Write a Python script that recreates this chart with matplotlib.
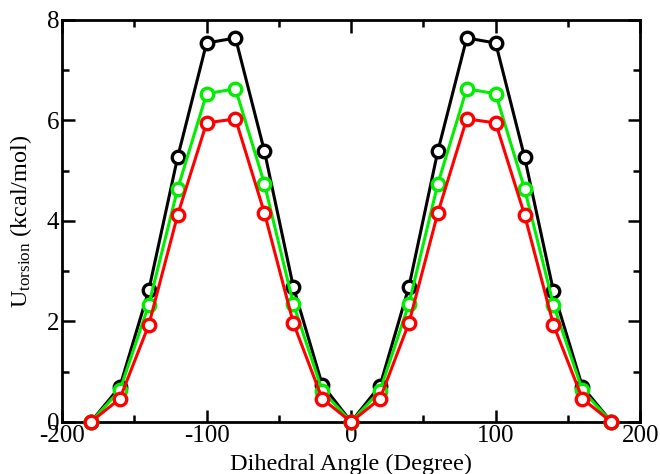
import matplotlib
matplotlib.use("Agg")
import matplotlib.pyplot as plt
from matplotlib.ticker import MultipleLocator

# dihedral angle (degree)
angle = [-180, -160, -140, -120, -100, -80, -60, -40, -20, 0,
         20, 40, 60, 80, 100, 120, 140, 160, 180]

# torsion energy (kcal/mol)
u_black = [0.0, 0.70, 2.62, 5.27, 7.54, 7.64, 5.39, 2.69, 0.74, 0.0,
           0.72, 2.69, 5.39, 7.64, 7.54, 5.27, 2.60, 0.70, 0.0]
u_green = [0.0, 0.63, 2.33, 4.64, 6.53, 6.63, 4.74, 2.35, 0.62, 0.0,
           0.62, 2.35, 4.74, 6.63, 6.53, 4.64, 2.33, 0.63, 0.0]
u_red = [0.0, 0.46, 1.93, 4.12, 5.95, 6.03, 4.16, 1.97, 0.46, 0.0,
         0.46, 1.97, 4.16, 6.03, 5.95, 4.12, 1.93, 0.46, 0.0]

plt.rcParams['font.family'] = ['Liberation Serif', 'DejaVu Serif']
plt.rcParams['mathtext.fontset'] = 'custom'
plt.rcParams['mathtext.rm'] = 'Liberation Serif'
plt.rcParams['mathtext.it'] = 'Liberation Serif'
plt.rcParams['axes.unicode_minus'] = False

fig = plt.figure(figsize=(6.6, 4.74), dpi=100)
ax = fig.add_axes([0.094, 0.110, 0.876, 0.848])

for y, c in [(u_black, 'black'), (u_green, '#00ee00'), (u_red, '#ff0000')]:
    ax.plot(angle, y, color=c, linewidth=2.2, marker='o', markersize=9,
            markerfacecolor='white', markeredgecolor=c, markeredgewidth=2.4,
            clip_on=False, zorder=3)

ax.set_xlim(-200, 200)
ax.set_ylim(0, 8)
ax.xaxis.set_major_locator(MultipleLocator(100))
ax.xaxis.set_minor_locator(MultipleLocator(50))
ax.yaxis.set_major_locator(MultipleLocator(2))
ax.yaxis.set_minor_locator(MultipleLocator(1))
ax.tick_params(which='both', direction='in', top=True, right=True,
               width=1.8, labelsize=18, pad=2)
ax.tick_params(which='major', length=9)
ax.tick_params(which='minor', length=5)
for s in ax.spines.values():
    s.set_linewidth(2)

ax.set_xlabel('Dihedral Angle (Degree)', fontsize=17.5, labelpad=5)
ax.set_ylabel(r'U$_{\mathrm{torsion}}$ (kcal/mol)', fontsize=17.5, labelpad=9)

fig.savefig('out.png', dpi=100)
